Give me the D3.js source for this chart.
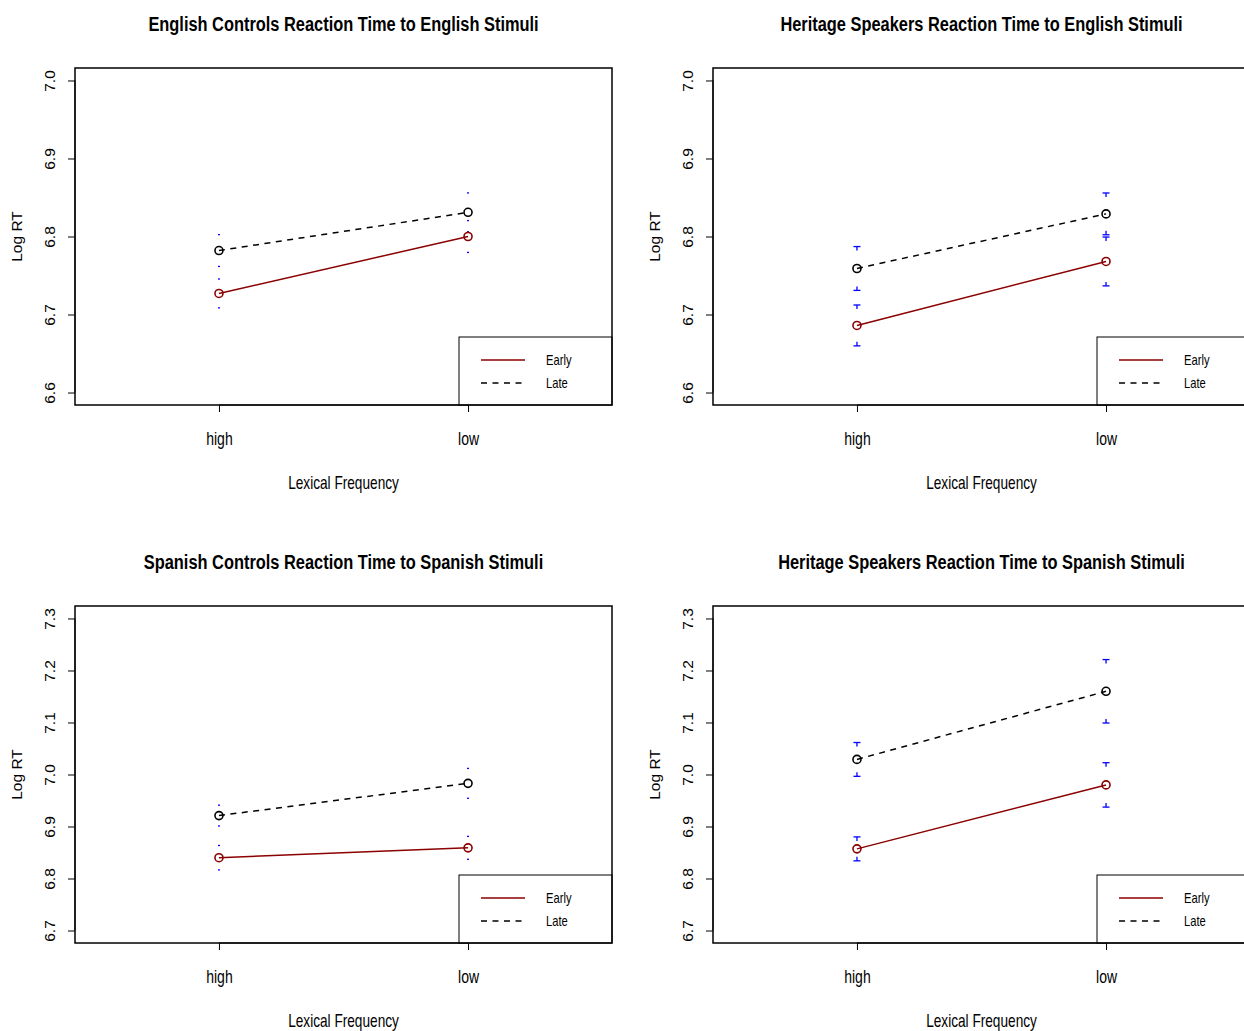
<!DOCTYPE html>
<html>
<head>
<meta charset="utf-8">
<script src="https://cdn.jsdelivr.net/npm/d3@7/dist/d3.min.js"></script>
<style>
  html, body { margin: 0; padding: 0; background: #fff; overflow: hidden; }
  svg { display: block; }
  .narrow { font-family: "Liberation Sans", Arial, sans-serif; }
  .reg { font-family: "Liberation Sans", Arial, sans-serif; }
</style>
</head>
<body>
<svg id="chart" width="1244" height="1031"></svg>
<script>
// ---------------- data ----------------
const categories = ["high", "low"];
const seriesNames = ["Early", "Late"];
const titles = [
  "English Controls Reaction Time to English Stimuli",
  "Heritage Speakers Reaction Time to English Stimuli",
  "Spanish Controls Reaction Time to Spanish Stimuli",
  "Heritage Speakers Reaction Time to Spanish Stimuli"
];
const xAxisLabel = "Lexical Frequency";
const yAxisLabel = "Log RT";
const yTicksTop = [6.6, 6.7, 6.8, 6.9, 7.0];
const yTicksBottom = [6.7, 6.8, 6.9, 7.0, 7.1, 7.2, 7.3];
const yLimitsTop = [6.6, 7.0];
const yLimitsBottom = [6.7, 7.3];

// mean log RT per panel, [high, low]
const earlyMeans = [[6.727, 6.800], [6.686, 6.768], [6.840, 6.859], [6.857, 6.980]];
const lateMeans  = [[6.782, 6.831], [6.759, 6.829], [6.921, 6.983], [7.029, 7.160]];
// error half-widths per panel, [high, low]
const earlyErr = [[0.0185, 0.0204], [0.0262, 0.0313], [0.0235, 0.0220], [0.0230, 0.0427]];
const lateErr  = [[0.0204, 0.0249], [0.0281, 0.0268], [0.0200, 0.0287], [0.0325, 0.0610]];

// ---------------- layout / style ----------------
const colors = { Early: "#8B0000", Late: "#000000" };
const dashes = { Early: null, Late: "6,5.5" };
const panelLayout = [
  { x0: 75,  y0: 68,  lim: yLimitsTop,    ticks: yTicksTop },
  { x0: 713, y0: 68,  lim: yLimitsTop,    ticks: yTicksTop },
  { x0: 75,  y0: 606, lim: yLimitsBottom, ticks: yTicksBottom },
  { x0: 713, y0: 606, lim: yLimitsBottom, ticks: yTicksBottom }
];
const capW = [2, 7, 2, 7];
const stub = [0, 4, 0, 4];
const W = 537, H = 337;

const svg = d3.select("#chart");

function narrowText(parent, x, y, str, size, bold, sx) {
  const t = parent.append("g").attr("transform", `translate(${x},${y})`)
    .append("text").attr("class", "narrow")
    .attr("transform", `scale(${sx},1)`)
    .attr("text-anchor", "middle")
    .attr("font-size", size)
    .text(str);
  if (bold) t.attr("font-weight", "bold");
  return t;
}

panelLayout.forEach((p, i) => {
  const g = svg.append("g").attr("transform", `translate(${p.x0},${p.y0})`);
  const pad = (p.lim[1] - p.lim[0]) * 0.04;
  const y = d3.scaleLinear().domain([p.lim[0] - pad, p.lim[1] + pad]).range([H, 0]);
  const x = d3.scalePoint().domain(categories).range([0, W]).padding(0.578);

  // title
  narrowText(g, W / 2, -37, titles[i], 20.5, true, 0.80);

  // y axis
  const yAxis = d3.axisLeft(y).tickValues(p.ticks).tickFormat(d3.format(".1f")).tickSize(7).tickSizeOuter(0);
  const ya = g.append("g").call(yAxis);
  ya.select(".domain").attr("stroke", "#000").attr("stroke-width", 1)
    .attr("d", `M0,${y(p.ticks[0])}V${y(p.ticks[p.ticks.length - 1])}`);
  ya.selectAll(".tick line").attr("stroke", "#000");
  ya.selectAll(".tick text")
    .attr("class", "reg").attr("font-size", 15.5).attr("fill", "#000")
    .attr("transform", "rotate(-90)")
    .attr("x", 0).attr("y", -20).attr("dy", 0)
    .attr("text-anchor", "middle");

  // y label
  g.append("text").attr("class", "reg")
    .attr("transform", `translate(-53,${H / 2}) rotate(-90)`)
    .attr("text-anchor", "middle").attr("font-size", 15.5)
    .text(yAxisLabel);

  // x axis
  const xAxis = d3.axisBottom(x).tickSize(7).tickSizeOuter(0);
  const xa = g.append("g").attr("transform", `translate(0,${H})`).call(xAxis);
  xa.select(".domain").attr("d", `M${x(categories[0])},0H${x(categories[1])}`).attr("stroke", "#000");
  xa.selectAll(".tick line").attr("stroke", "#000");
  xa.selectAll(".tick text")
    .attr("class", "narrow").attr("font-size", 17.5).attr("fill", "#000")
    .attr("x", 0).attr("y", 34).attr("dy", "0.35em")
    .attr("transform", "scale(0.8,1)");

  narrowText(g, W / 2, H + 84, xAxisLabel, 17.5, false, 0.78);

  // series
  const series = [
    { name: "Early", means: earlyMeans[i], err: earlyErr[i] },
    { name: "Late",  means: lateMeans[i],  err: lateErr[i] }
  ];

  // error bars
  series.forEach(s => {
    categories.forEach((c, j) => {
      const cx = x(c);
      const top = y(s.means[j] + s.err[j]);
      const bot = y(s.means[j] - s.err[j]);
      const eb = g.append("g").attr("stroke", "#0000FF").attr("stroke-width", 1.3).attr("fill", "none");
      const w = capW[i] / 2;
      eb.append("line").attr("x1", cx - w).attr("x2", cx + w).attr("y1", top).attr("y2", top);
      eb.append("line").attr("x1", cx - w).attr("x2", cx + w).attr("y1", bot).attr("y2", bot);
      if (stub[i] > 0) {
        eb.append("line").attr("x1", cx).attr("x2", cx).attr("y1", top).attr("y2", top + stub[i]);
        eb.append("line").attr("x1", cx).attr("x2", cx).attr("y1", bot).attr("y2", bot - stub[i]);
      }
    });
  });

  const line = d3.line().x((d, j) => x(categories[j])).y(d => y(d));
  series.forEach(s => {
    g.append("path").datum(s.means)
      .attr("d", line)
      .attr("fill", "none")
      .attr("stroke", colors[s.name])
      .attr("stroke-width", 1.5)
      .attr("stroke-dasharray", dashes[s.name]);
    g.selectAll(null).data(s.means).enter().append("circle")
      .attr("cx", (d, j) => x(categories[j]))
      .attr("cy", d => y(d))
      .attr("r", 4)
      .attr("fill", "none")
      .attr("stroke", colors[s.name])
      .attr("stroke-width", 1.6);
  });

  // legend
  const lg = g.append("g").attr("transform", `translate(${W - 153},${H - 68})`);
  lg.append("rect").attr("width", 153).attr("height", 68)
    .attr("fill", "#fff").attr("stroke", "#000").attr("stroke-width", 1);
  seriesNames.forEach((n, k) => {
    const ly = 23 + k * 23;
    lg.append("line").attr("x1", 22).attr("x2", 66).attr("y1", ly).attr("y2", ly)
      .attr("stroke", colors[n]).attr("stroke-width", 1.3)
      .attr("stroke-dasharray", dashes[n]);
    lg.append("g").attr("transform", `translate(87,${ly})`)
      .append("text").attr("class", "narrow")
      .attr("transform", "scale(0.8,1)")
      .attr("dy", "0.35em")
      .attr("font-size", 14).text(n);
  });

  // box
  g.append("rect").attr("width", W).attr("height", H)
    .attr("fill", "none").attr("stroke", "#000").attr("stroke-width", 1.5);
});
</script>
</body>
</html>
